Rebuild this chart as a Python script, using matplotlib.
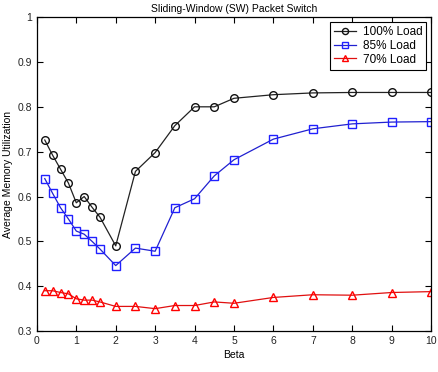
import matplotlib
matplotlib.use("Agg")
import matplotlib.pyplot as plt

plt.rcParams['font.family'] = ['Liberation Sans', 'DejaVu Sans']

beta = [0.2, 0.4, 0.6, 0.8, 1.0, 1.2, 1.4, 1.6, 2.0, 2.5, 3.0, 3.5, 4.0, 4.5, 5.0, 6, 7, 8, 9, 10]
load100 = [0.726, 0.692, 0.661, 0.630, 0.586, 0.600, 0.576, 0.554, 0.490, 0.656, 0.698, 0.758,
           0.800, 0.800, 0.819, 0.827, 0.831, 0.832, 0.832, 0.832]
load85 = [0.640, 0.607, 0.575, 0.550, 0.523, 0.516, 0.500, 0.483, 0.446, 0.485, 0.478, 0.575,
          0.595, 0.646, 0.682, 0.728, 0.751, 0.762, 0.766, 0.767]
load70 = [0.390, 0.390, 0.386, 0.383, 0.372, 0.369, 0.369, 0.365, 0.355, 0.355, 0.350, 0.357,
          0.357, 0.365, 0.362, 0.375, 0.381, 0.380, 0.386, 0.388]
labels = ['100% Load', '85% Load', '70% Load']

fig = plt.figure(figsize=(4.39, 3.72), dpi=100)
ax = fig.add_axes([0.084, 0.110, 0.898, 0.844])

ax.plot(beta, load100, color='#222222', marker='o', mfc='none', mec='#111111', ms=5.5, lw=0.9, label=labels[0])
ax.plot(beta, load85, color='#2020d0', marker='s', mfc='none', mec='#2020ff', ms=5.5, lw=0.9, label=labels[1])
ax.plot(beta, load70, color='#e01010', marker='^', mfc='none', mec='#ff0000', ms=5.5, lw=0.9, label=labels[2])

ax.set_xlim(0, 10)
ax.set_ylim(0.3, 1.0)
ax.set_xticks(range(0, 11))
ax.set_yticks([0.3, 0.4, 0.5, 0.6, 0.7, 0.8, 0.9, 1.0])
ax.set_yticklabels(['0.3', '0.4', '0.5', '0.6', '0.7', '0.8', '0.9', '1'])
ax.tick_params(direction='in', top=True, right=True, labelsize=7.5, length=4, width=0.8,
               labelcolor='#222222')
for s in ax.spines.values():
    s.set_linewidth(0.9)

ax.set_xlabel('Beta', fontsize=7.5, labelpad=3)
ax.set_ylabel('Average Memory Utilization', fontsize=7.5, labelpad=3)
ax.set_title('Sliding-Window (SW) Packet Switch', fontsize=7.5, pad=4)

leg = ax.legend(loc='upper right', fontsize=8.5, fancybox=False, edgecolor='black',
                framealpha=1, handlelength=1.8, handletextpad=0.6, borderpad=0.35,
                labelspacing=0.15, borderaxespad=0.4, markerscale=0.8)
leg.get_frame().set_linewidth(0.8)

fig.savefig('out.png', dpi=100)
